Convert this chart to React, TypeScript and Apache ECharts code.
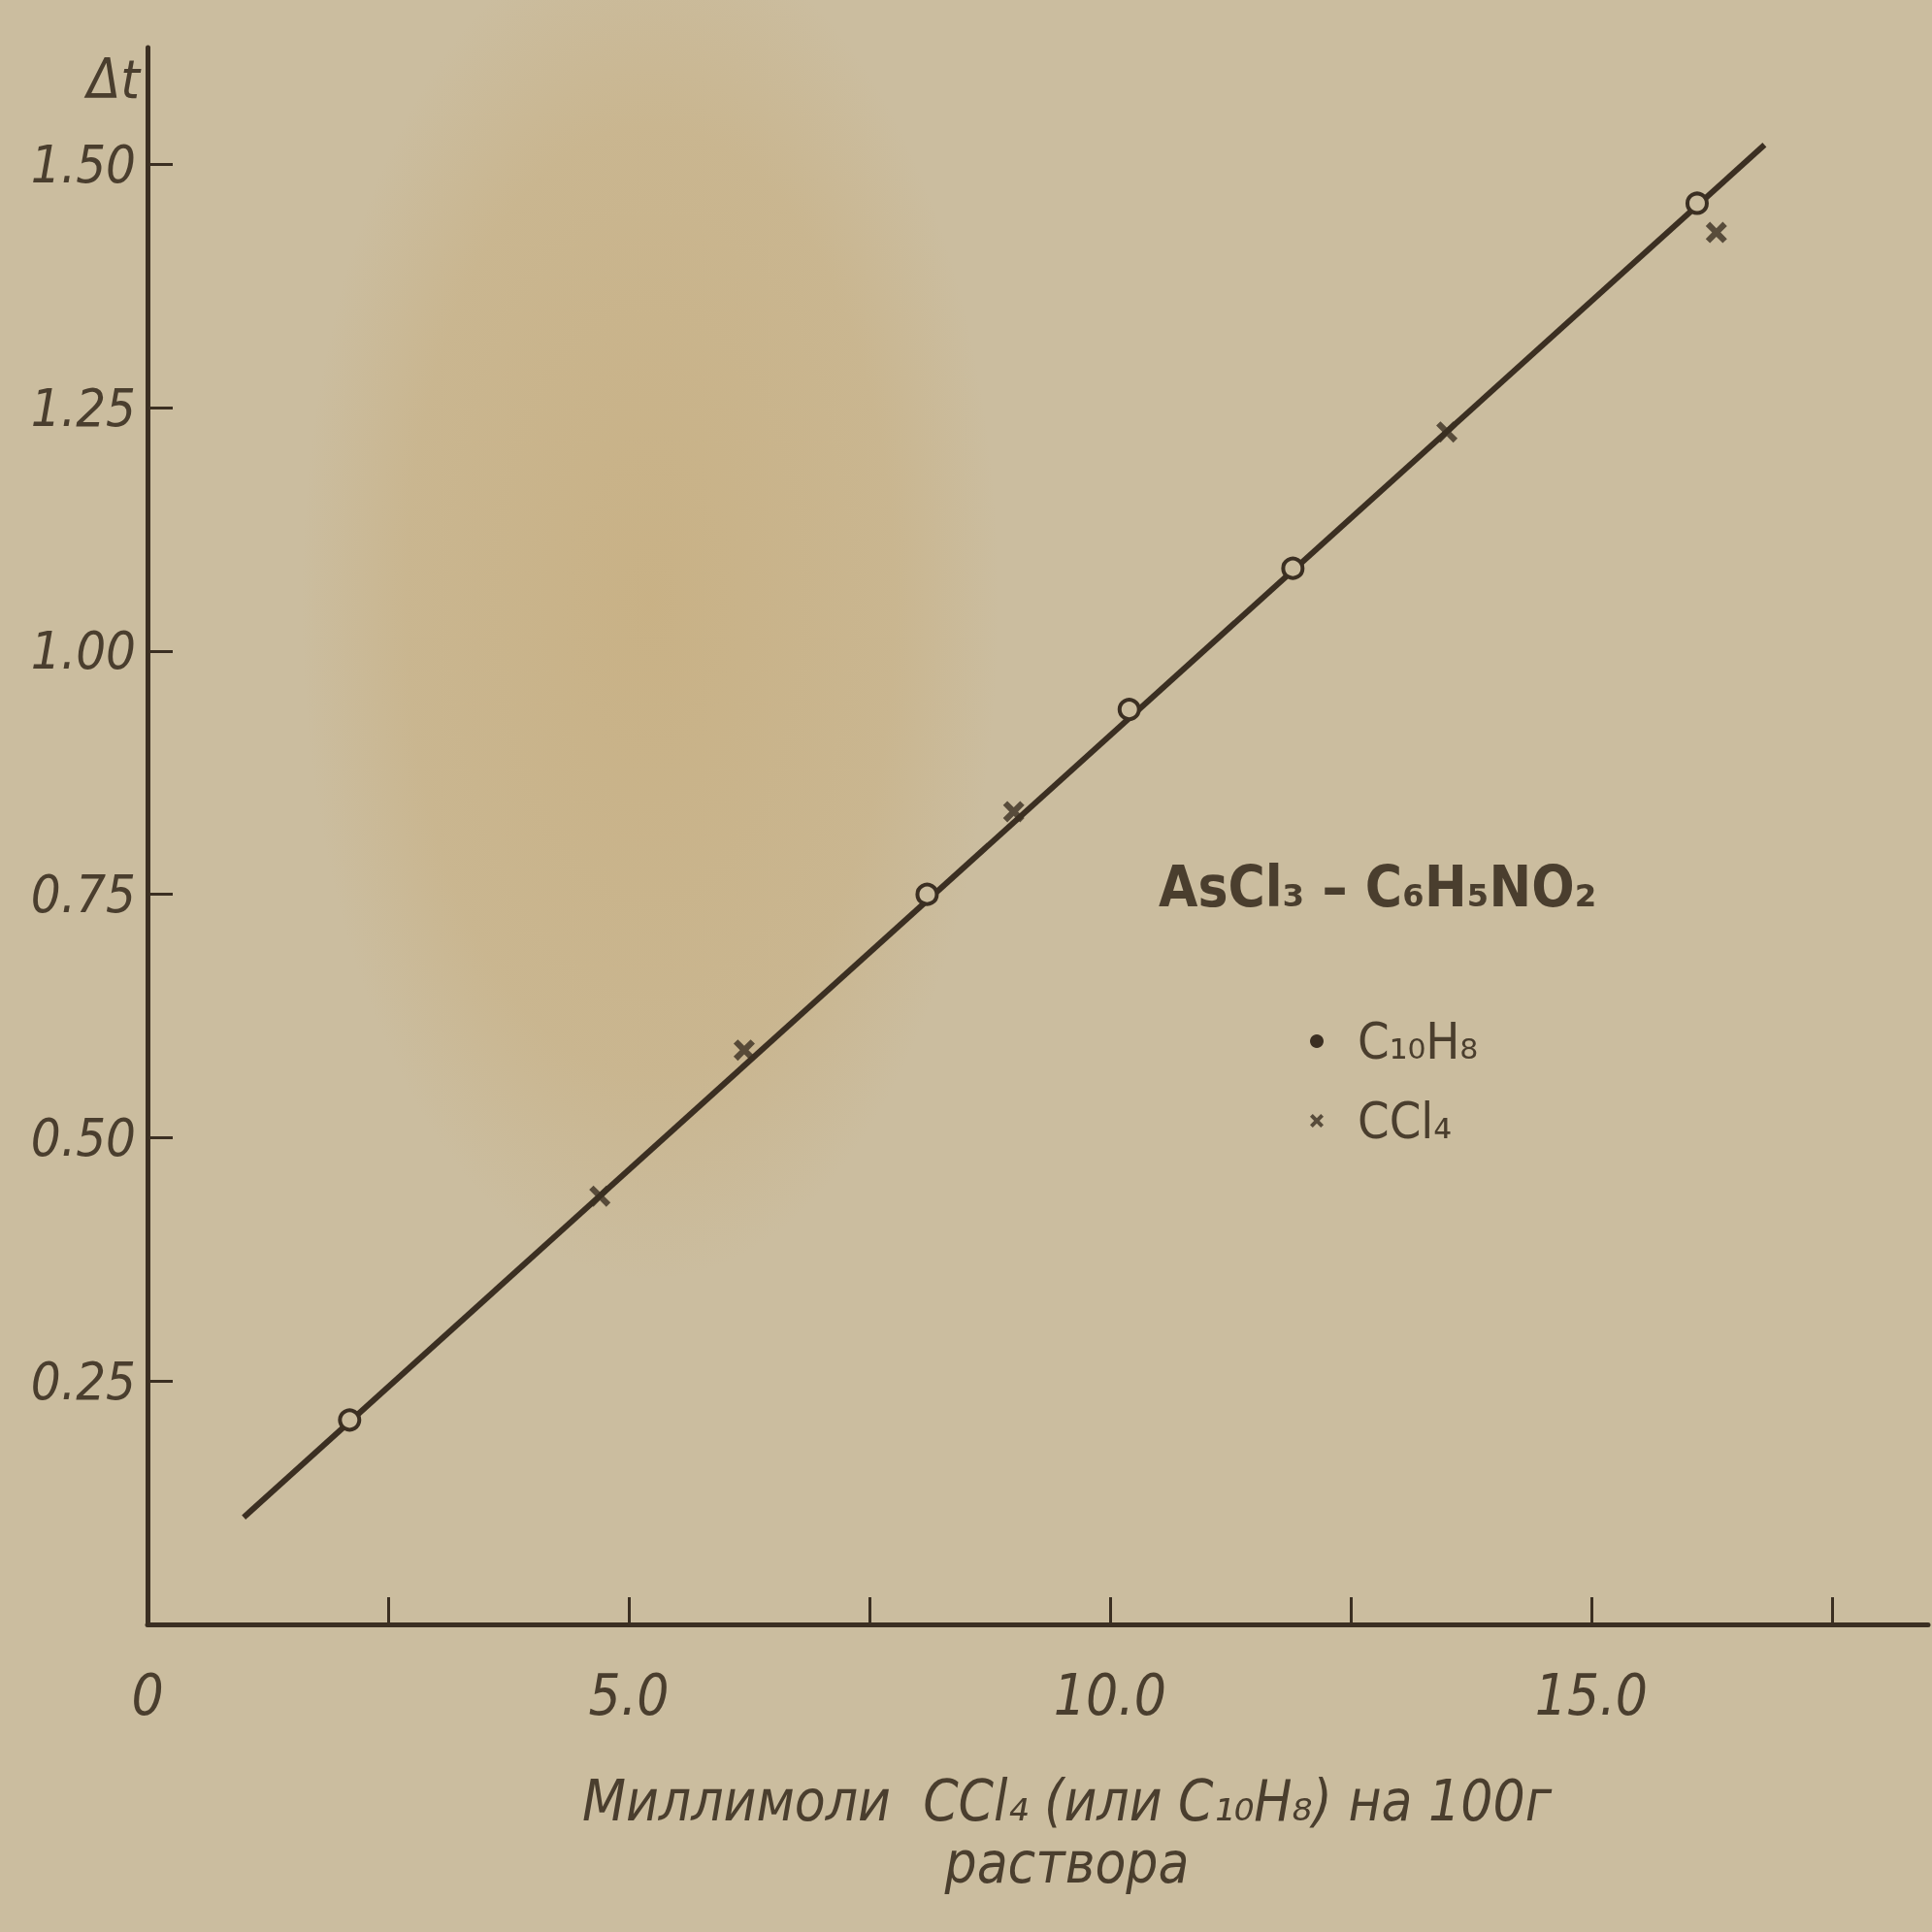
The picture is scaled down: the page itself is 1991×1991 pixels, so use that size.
import React, { useEffect, useRef } from "react";
import * as echarts from "echarts";

// ---- data ----
const c10h8X = [2.1, 8.1, 10.2, 11.9, 16.1];
const c10h8Y = [0.21, 0.75, 0.94, 1.085, 1.46];
const ccl4X = [4.7, 6.2, 9.0, 13.5, 16.3];
const ccl4Y = [0.44, 0.59, 0.835, 1.225, 1.43];
const fitX = [1.0, 16.8];
const fitY = [0.11, 1.52];
const yTicks = [0.25, 0.5, 0.75, 1.0, 1.25, 1.5];
const xTicks = [2.5, 5, 7.5, 10, 12.5, 15, 17.5];
const xLabels = [0, 5, 10, 15];
const seriesNames = ["C₁₀H₈", "CCl₄"];
const systemLabel = "AsCl₃ – C₆H₅NO₂";
const xTitle = "Миллимоли  CCl₄ (или C₁₀H₈) на 100г\nраствора";
const yTitle = "Δt";

const INK = "#3b2f22";
const TEXT = "#4a3e2e";
const PAPER = "#cbbd9f";
const FONT = "'Liberation Sans Narrow', 'DejaVu Sans Condensed', 'Roboto', sans-serif";
const CROSS =
  "path://M0,2 L2,0 L5,3 L8,0 L10,2 L7,5 L10,8 L8,10 L5,7 L2,10 L0,8 L3,5 Z";

export default function App() {
  const ref = useRef<HTMLDivElement>(null);
  useEffect(() => {
    if (!ref.current) return;
    const chart = echarts.init(ref.current, null, { renderer: "svg" });
    const zip = (xs: number[], ys: number[]) => xs.map((x, i) => [x, ys[i]]);
    chart.setOption({
      animation: false,
      backgroundColor: PAPER,
      graphic: [
        {
          type: "ellipse",
          z: -10,
          shape: { cx: 670, cy: 620, rx: 360, ry: 700 },
          style: {
            fill: {
              type: "radial",
              x: 0.5,
              y: 0.5,
              r: 0.5,
              colorStops: [
                { offset: 0, color: "rgba(195,150,75,0.3)" },
                { offset: 0.7, color: "rgba(195,150,75,0.18)" },
                { offset: 1, color: "rgba(195,150,75,0)" },
              ],
            },
          },
          silent: true,
        },
        {
          type: "text",
          left: 1194,
          top: 885,
          style: {
            text: systemLabel,
            fontFamily: FONT,
            fontSize: 58,
            fontWeight: "bold",
            fill: TEXT,
          },
        },
      ],
      grid: { left: 152, right: 4, top: 49, bottom: 317, containLabel: false },
      legend: {
        orient: "vertical",
        left: 1345,
        top: 1042,
        itemGap: 30,
        itemWidth: 14,
        itemHeight: 14,
        data: [
          { name: seriesNames[0], icon: "circle", itemStyle: { color: INK, borderWidth: 0 } },
          { name: seriesNames[1], icon: CROSS, itemStyle: { color: INK, borderWidth: 0 } },
        ],
        textStyle: { fontFamily: FONT, fontSize: 52, color: TEXT, padding: [0, 0, 0, 30] },
      },
      xAxis: {
        type: "value",
        min: 0,
        max: 18.5,
        name: xTitle,
        nameLocation: "middle",
        nameGap: 150,
        nameTextStyle: {
          fontFamily: FONT,
          fontSize: 58,
          fontStyle: "italic",
          color: TEXT,
          lineHeight: 64,
          padding: [0, 0, 0, 60],
        },
        splitLine: { show: false },
        axisLine: { show: true, lineStyle: { color: INK, width: 5 } },
        axisTick: {
          show: true,
          inside: true,
          length: 28,
          lineStyle: { color: INK, width: 3 },
          customValues: xTicks,
        },
        axisLabel: {
          customValues: xLabels,
          margin: 44,
          fontFamily: FONT,
          fontSize: 58,
          fontStyle: "italic",
          color: TEXT,
          formatter: (v: number) => (v === 0 ? "0" : v.toFixed(1)),
        },
      },
      yAxis: {
        type: "value",
        min: 0,
        max: 1.62,
        name: yTitle,
        nameLocation: "end",
        nameGap: -32,
        nameTextStyle: {
          fontFamily: FONT,
          fontSize: 56,
          fontStyle: "italic",
          color: TEXT,
          align: "right",
          verticalAlign: "middle",
          padding: [0, 8, 0, 0],
        },
        splitLine: { show: false },
        axisLine: { show: true, lineStyle: { color: INK, width: 5 } },
        axisTick: {
          show: true,
          inside: true,
          length: 26,
          lineStyle: { color: INK, width: 3 },
          customValues: yTicks,
        },
        axisLabel: {
          customValues: yTicks,
          margin: 12,
          fontFamily: FONT,
          fontSize: 54,
          fontStyle: "italic",
          color: TEXT,
          formatter: (v: number) => v.toFixed(2),
        },
      },
      series: [
        {
          name: "fit",
          type: "line",
          data: zip(fitX, fitY),
          symbol: "none",
          lineStyle: { color: INK, width: 6 },
          z: 2,
          silent: true,
        },
        {
          name: seriesNames[0],
          type: "scatter",
          data: zip(c10h8X, c10h8Y),
          symbol: "circle",
          symbolSize: 20,
          itemStyle: { color: PAPER, borderColor: INK, borderWidth: 4, opacity: 1 },
          z: 3,
        },
        {
          name: seriesNames[1],
          type: "scatter",
          data: zip(ccl4X, ccl4Y),
          symbol: CROSS,
          symbolSize: 22,
          itemStyle: { color: INK },
          z: 4,
        },
      ],
    });
    return () => chart.dispose();
  }, []);
  return (
    <div
      ref={ref}
      style={{ position: "absolute", left: 0, top: 0, width: 1991, height: 1991 }}
    />
  );
}
